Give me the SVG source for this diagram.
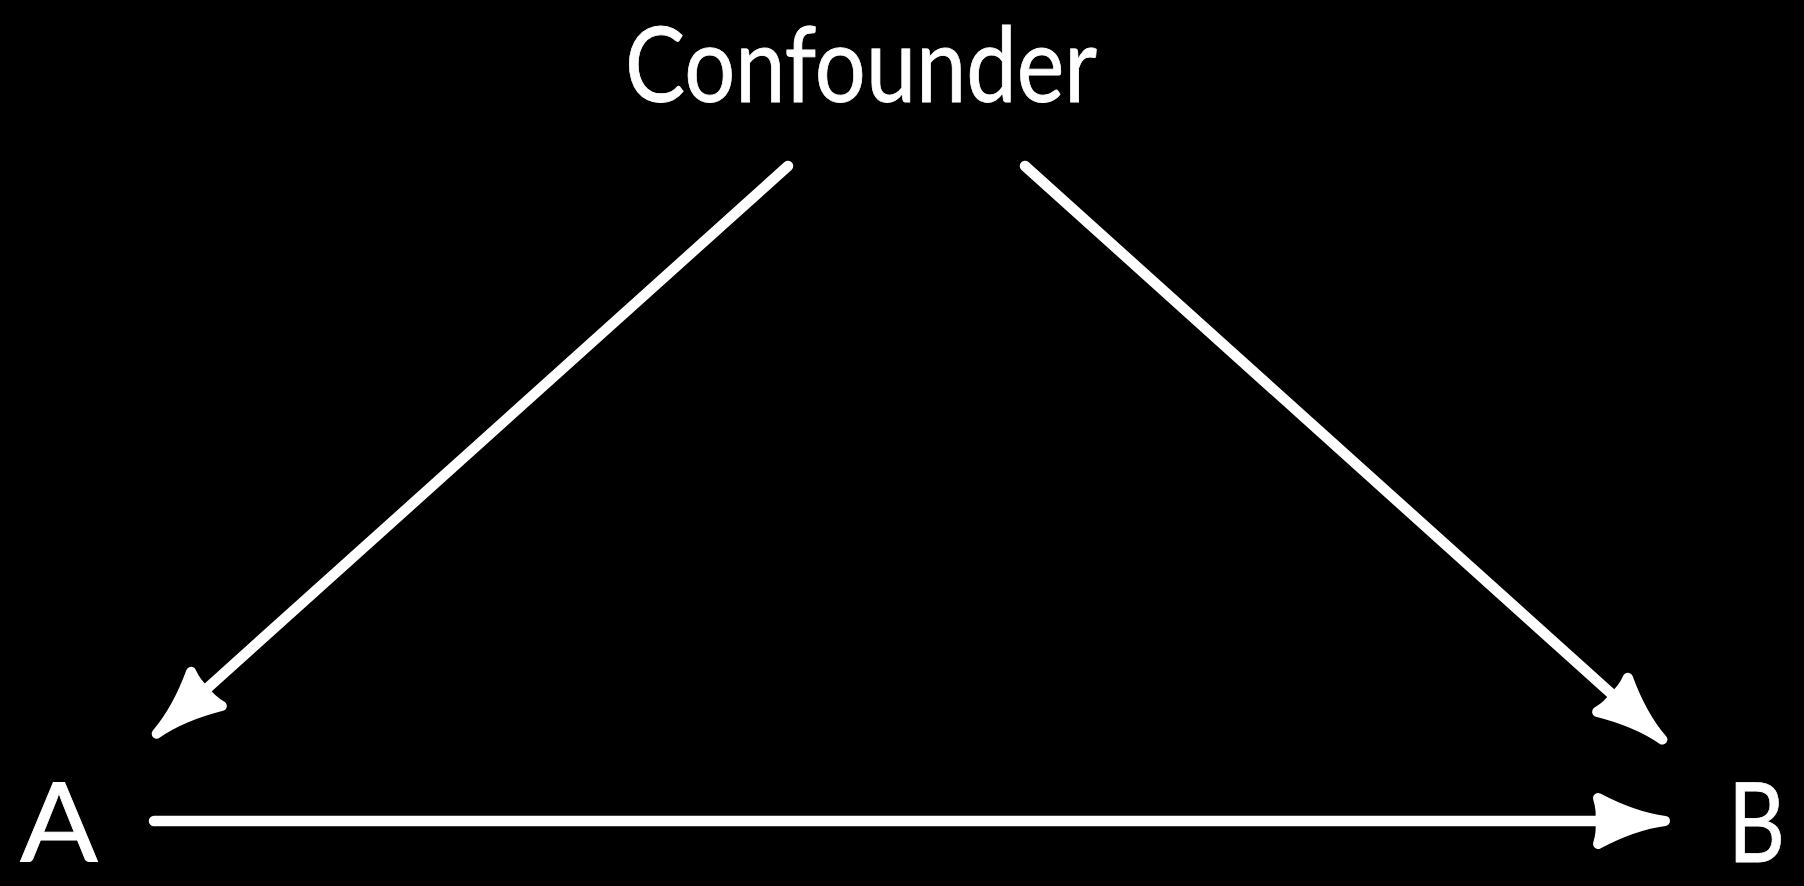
<svg xmlns="http://www.w3.org/2000/svg" width="1804" height="886" viewBox="0 0 1804 886">
<style>
.lbl{font-family:Lato,"Liberation Sans",sans-serif;font-size:110px;fill:#fff;stroke:#fff;stroke-width:0.8;font-weight:400}
.top{font-size:104px}
.edge{stroke:#fff;stroke-width:10.5;stroke-linecap:round;fill:none}
</style>
<defs>
<marker id="ah" markerUnits="userSpaceOnUse" markerWidth="160" markerHeight="100" viewBox="-80 -50 160 100" refX="0" refY="0" orient="auto" overflow="visible">
<path d="M35 0 Q4 -4 -32 -23 Q-28 -10 -30 0 Q-28 10 -32 23 Q4 4 35 0 Z" fill="#fff" stroke="#fff" stroke-width="10" stroke-linejoin="round"/>
</marker>
</defs>
<rect width="1804" height="886" fill="#000"/>
<g id="confounder"><text class="lbl top" x="625" y="102" textLength="472" lengthAdjust="spacingAndGlyphs">Confounder</text></g>
<g id="A"><text class="lbl" x="20" y="862" textLength="78" lengthAdjust="spacingAndGlyphs">A</text></g>
<g id="B"><text class="lbl" x="1728" y="862" textLength="57" lengthAdjust="spacingAndGlyphs">B</text></g>
<g id="connectors">
<line class="edge" x1="788" y1="166" x2="182.7" y2="710.3" marker-end="url(#ah)"/>
<line class="edge" x1="1025" y1="166" x2="1636.3" y2="716.2" marker-end="url(#ah)"/>
<line class="edge" x1="154" y1="821" x2="1630" y2="821" marker-end="url(#ah)"/>
</g>
</svg>
